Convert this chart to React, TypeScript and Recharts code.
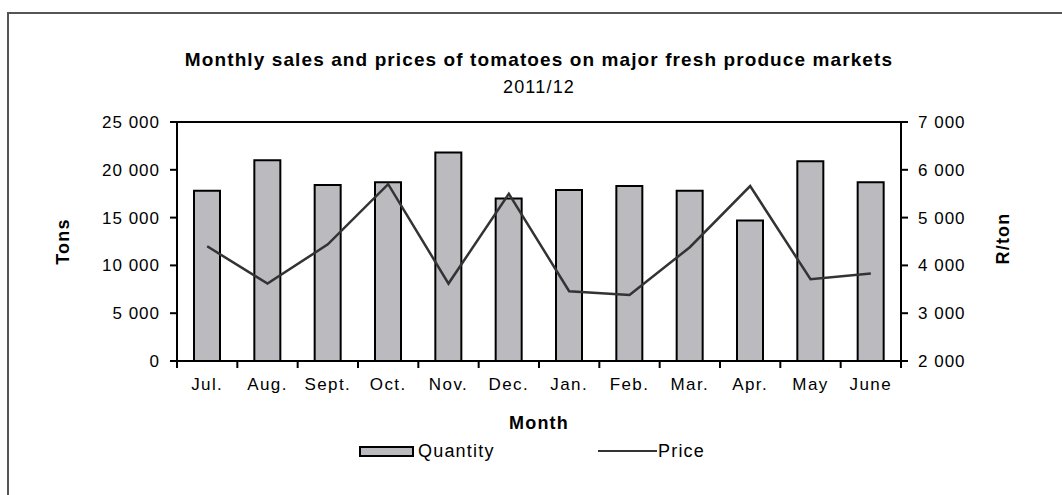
import React from 'react';
import { ComposedChart, Bar, Line, XAxis, YAxis, Legend, ReferenceLine } from 'recharts';

const months = ['Jul.', 'Aug.', 'Sept.', 'Oct.', 'Nov.', 'Dec.', 'Jan.', 'Feb.', 'Mar.', 'Apr.', 'May', 'June'];
const quantity = [17800, 21000, 18400, 18700, 21800, 17000, 17900, 18300, 17800, 14700, 20900, 18700];
const price = [4400, 3620, 4440, 5700, 3620, 5500, 3460, 3380, 4380, 5660, 3710, 3830];
const leftTicks = [0, 5000, 10000, 15000, 20000, 25000];
const rightTicks = [2000, 3000, 4000, 5000, 6000, 7000];

const data = months.map((m, i) => ({ month: m, Quantity: quantity[i], Price: price[i] }));

const FONT = '"Liberation Sans", Arial, sans-serif';
const fmt = (v: number) => {
  const s = String(v);
  return s.length > 3 ? s.slice(0, s.length - 3) + ' ' + s.slice(-3) : s;
};

const XTick = (props: any) => {
  const { x, y, payload, index, visibleTicksCount } = props;
  const half = payload && typeof payload.offset === 'number' && payload.offset > 0 ? payload.offset : 30.17;
  const last = index === visibleTicksCount - 1;
  return (
    <g>
      <line x1={x - half} x2={x - half} y1={y} y2={y + 7} stroke="#000" strokeWidth={2} />
      {last && <line x1={x + half} x2={x + half} y1={y} y2={y + 7} stroke="#000" strokeWidth={2} />}
      <text x={x} y={y + 23} textAnchor="middle" dominantBaseline="central" fontFamily={FONT} fontSize={17} letterSpacing={1.4} fill="#000">
        {payload.value}
      </text>
    </g>
  );
};

const LegendContent = (props: any) => {
  const items = props.payload || [];
  return (
    <div style={{ position: 'relative', width: 1062, height: 24, fontFamily: FONT, fontSize: 18, letterSpacing: 1.2 }}>
      {items.map((it: any) => {
        const isBar = it.value === 'Quantity';
        return isBar ? (
          <React.Fragment key={it.value}>
            <div style={{ position: 'absolute', left: 359, top: 6, width: 51, height: 7, background: '#bbbbbf', border: '2px solid #000' }} />
            <div style={{ position: 'absolute', left: 418, top: 0, lineHeight: '22px' }}>{it.value}</div>
          </React.Fragment>
        ) : (
          <React.Fragment key={it.value}>
            <div style={{ position: 'absolute', left: 598, top: 10, width: 59, height: 2, background: '#333' }} />
            <div style={{ position: 'absolute', left: 658, top: 0, lineHeight: '22px' }}>{it.value}</div>
          </React.Fragment>
        );
      })}
    </div>
  );
};

export default function App() {
  return (
    <div style={{ position: 'absolute', left: 0, top: 0, width: 1062, height: 495, overflow: 'hidden', background: '#fff' }}>
      <div style={{ position: 'absolute', left: 7, top: 12, width: 1100, height: 600, border: '2px solid #555', boxSizing: 'border-box' }} />
      <div style={{ position: 'absolute', left: 0, top: 47, width: 1078, textAlign: 'center', fontFamily: FONT, fontSize: 19, fontWeight: 'bold', letterSpacing: 1.1, lineHeight: '26px' }}>
        Monthly sales and prices of tomatoes on major fresh produce markets
      </div>
      <div style={{ position: 'absolute', left: 0, top: 75, width: 1078, textAlign: 'center', fontFamily: FONT, fontSize: 18, letterSpacing: 1.2, lineHeight: '24px' }}>
        2011/12
      </div>
      <div style={{ position: 'absolute', left: 0, top: 0 }}>
        <ComposedChart width={1062} height={495} data={data} margin={{ top: 122, right: 0, bottom: 0, left: 0 }} barSize={26}>
          <XAxis
            dataKey="month"
            height={110}
            tick={<XTick />}
            tickLine={false}
            tickSize={0}
            tickMargin={0}
            axisLine={{ stroke: '#000', strokeWidth: 2 }}
            interval={0}
            label={{
              content: (p: any) => (
                <text x={p.viewBox.x + p.viewBox.width / 2} y={p.viewBox.y + 62} textAnchor="middle" dominantBaseline="central" fontFamily={FONT} fontSize={18} fontWeight="bold" letterSpacing={1.2}>
                  Month
                </text>
              ),
            }}
          />
          <YAxis
            yAxisId="left"
            orientation="left"
            width={177}
            domain={[0, 25000]}
            ticks={leftTicks}
            tickFormatter={fmt}
            tickSize={7}
            tickMargin={10}
            tickLine={{ stroke: '#000', strokeWidth: 2 }}
            axisLine={{ stroke: '#000', strokeWidth: 2 }}
            tick={{ fill: '#000', fontFamily: FONT, fontSize: 17, letterSpacing: 1 }}
            interval={0}
            label={{
              content: (p: any) => {
                const cx = p.viewBox.x + 63;
                const cy = p.viewBox.y + p.viewBox.height / 2;
                return (
                  <text x={cx} y={cy} transform={`rotate(-90 ${cx} ${cy})`} textAnchor="middle" dominantBaseline="central" fontFamily={FONT} fontSize={18} fontWeight="bold" letterSpacing={1.2}>
                    Tons
                  </text>
                );
              },
            }}
          />
          <YAxis
            yAxisId="right"
            orientation="right"
            width={161}
            domain={[2000, 7000]}
            ticks={rightTicks}
            tickFormatter={fmt}
            tickSize={7}
            tickMargin={10}
            tickLine={{ stroke: '#000', strokeWidth: 2 }}
            axisLine={{ stroke: '#000', strokeWidth: 2 }}
            tick={{ fill: '#000', fontFamily: FONT, fontSize: 17, letterSpacing: 1 }}
            interval={0}
            label={{
              content: (p: any) => {
                const cx = p.viewBox.x + 102;
                const cy = p.viewBox.y + p.viewBox.height / 2 - 3;
                return (
                  <text x={cx} y={cy} transform={`rotate(-90 ${cx} ${cy})`} textAnchor="middle" dominantBaseline="central" fontFamily={FONT} fontSize={18} fontWeight="bold" letterSpacing={1.2}>
                    R/ton
                  </text>
                );
              },
            }}
          />
          <ReferenceLine yAxisId="left" y={25000} stroke="#000" strokeWidth={2} />
          <Bar yAxisId="left" dataKey="Quantity" fill="#bbbbbf" stroke="#000" strokeWidth={2} isAnimationActive={false} />
          <Line yAxisId="right" dataKey="Price" type="linear" stroke="#333" strokeWidth={2.5} dot={false} activeDot={false} isAnimationActive={false} />
          <Legend content={<LegendContent />} wrapperStyle={{ position: 'absolute', top: 440, left: 0, width: 1062, height: 24 }} />
        </ComposedChart>
      </div>
    </div>
  );
}
